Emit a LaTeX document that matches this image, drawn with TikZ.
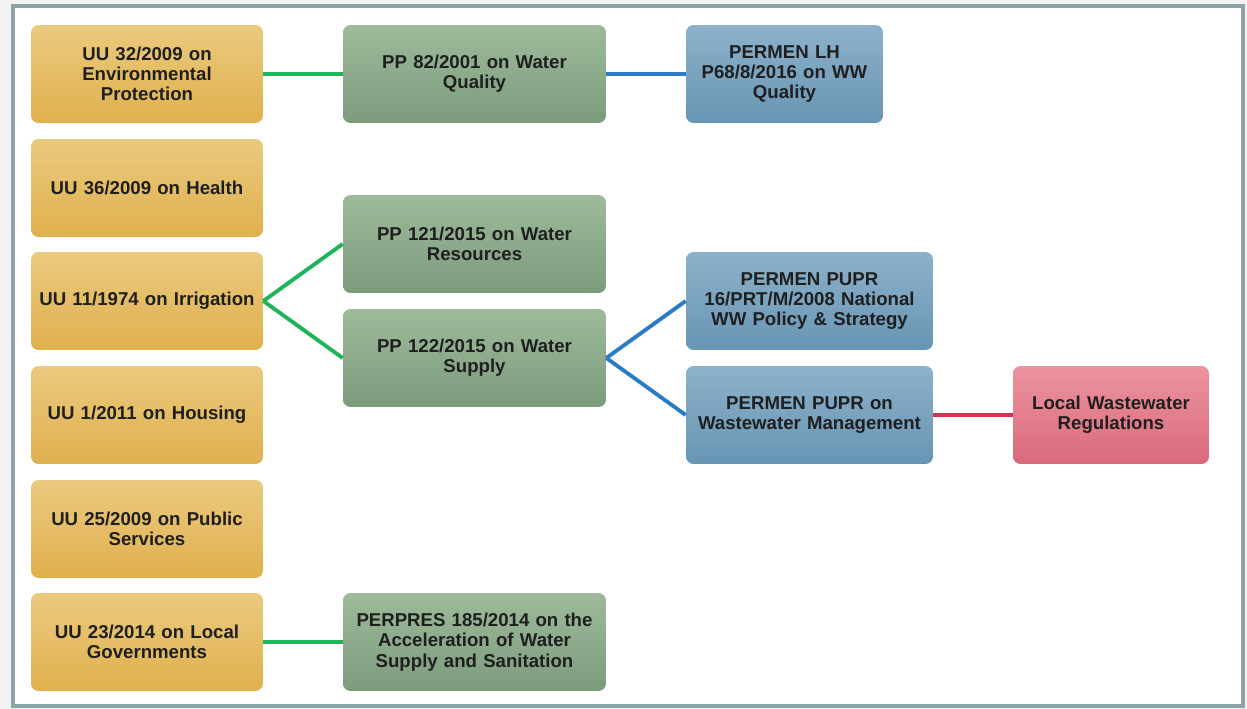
\documentclass[tikz,border=0pt]{standalone}
\usepackage{fontspec}
\setmainfont{Liberation Sans}
\usepackage{tikz}
\definecolor{framec}{HTML}{8BA4A7}
\definecolor{yelT}{HTML}{EACA7E}
\definecolor{yelB}{HTML}{E0B04E}
\definecolor{grnT}{HTML}{9DBB9B}
\definecolor{grnB}{HTML}{7C9B7C}
\definecolor{bluT}{HTML}{8DB1CA}
\definecolor{bluB}{HTML}{6795B4}
\definecolor{pnkT}{HTML}{EC93A0}
\definecolor{pnkB}{HTML}{D96A7B}
\definecolor{lgreen}{HTML}{1EB45A}
\definecolor{lblue}{HTML}{2A7CC6}
\definecolor{lred}{HTML}{D2344F}

\begin{document}
\begin{tikzpicture}[x=0.02cm,y=-0.02cm,
  box/.style={rounded corners=0.15cm, align=center, inner sep=2pt,
    minimum height=1.96cm, font=\fontsize{10.6}{11.5}\selectfont\bfseries, text=black!88},
  uu/.style={box, top color=yelT, bottom color=yelB, minimum width=4.64cm, text width=4.4cm},
  pp/.style={box, top color=grnT, bottom color=grnB, minimum width=5.26cm, text width=5cm},
  pm/.style={box, top color=bluT, bottom color=bluB, minimum width=#1, text width=#1-0.2cm},
  loc/.style={box, top color=pnkT, bottom color=pnkB, minimum width=3.92cm, text width=3.7cm},
  gline/.style={draw=lgreen, line width=2.2pt},
  bline/.style={draw=lblue, line width=2.2pt},
  rline/.style={draw=lred, line width=2.2pt}]
\useasboundingbox (0,0) rectangle (1247,709);
\fill[black!5] (0,0) rectangle (1247,709);
\fill[white] (13,6) rectangle (1243,706);
\draw[framec, line width=0.08cm] (13,6) rectangle (1243,706);

% laws
\node [uu] (u1) at (147,74) {UU 32/2009 on\\Environmental\\Protection};
\node [uu] (u2) at (147,188) {UU 36/2009 on Health};
\node [uu] (u3) at (147,301) {UU 11/1974 on Irrigation};
\node [uu] (u4) at (147,415) {UU 1/2011 on Housing};
\node [uu] (u5) at (147,529) {UU 25/2009 on Public\\Services};
\node [uu] (u6) at (147,642) {UU 23/2014 on Local\\Governments};

% government regulations
\node [pp] (p1) at (474.5,74) {PP 82/2001 on Water\\Quality};
\node [pp] (p2) at (474.5,244) {PP 121/2015 on Water\\Resources};
\node [pp] (p3) at (474.5,358) {PP 122/2015 on Water\\Supply};
\node [pp] (p4) at (474.5,642) {PERPRES 185/2014 on the\\Acceleration of Water\\Supply and Sanitation};

% ministerial regulations
\node [pm=3.94cm] (m1) at (784.5,74) {PERMEN LH\\P68/8/2016 on WW\\Quality};
\node [pm=4.94cm] (m2) at (809.5,301) {PERMEN PUPR\\16/PRT/M/2008 National\\WW Policy \& Strategy};
\node [pm=4.94cm] (m3) at (809.5,415) {PERMEN PUPR on\\Wastewater Management};

\node [loc] (l1) at (1111,415) {Local Wastewater\\Regulations};

\draw [gline] (u1.east) -- (p1.west);
\draw [gline] (u3.east) -- (p2.west);
\draw [gline] (u3.east) -- (p3.west);
\draw [gline] (u6.east) -- (p4.west);
\draw [bline] (p1.east) -- (m1.west);
\draw [bline] (p3.east) -- (m2.west);
\draw [bline] (p3.east) -- (m3.west);
\draw [rline] (m3.east) -- (l1.west);
\end{tikzpicture}
\end{document}
